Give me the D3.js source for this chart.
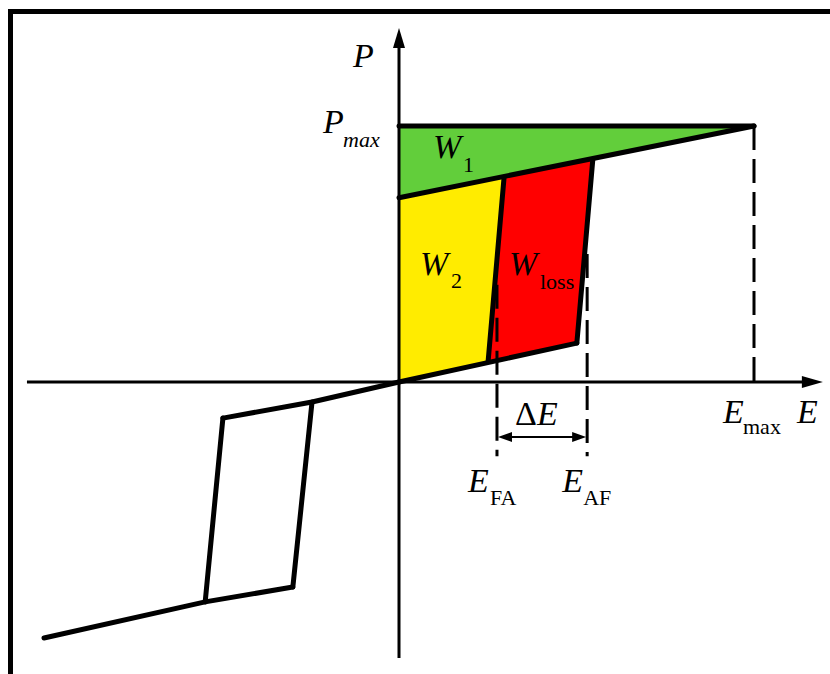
<!DOCTYPE html>
<html>
<head>
<meta charset="utf-8">
<script src="https://cdn.jsdelivr.net/npm/d3@7"></script>
<style>
  body { margin: 0; background: #fff; }
  svg { display: block; }
  text { font-family: "Liberation Serif", "Times New Roman", serif; fill: #000; }
</style>
</head>
<body>
<svg id="chart" width="830" height="674"></svg>
<script>
// normalised units: E / Emax and P / Pmax //
const eMax = 1;
const pMax = 1;

// positive loop //
const lowerE = [0, 0.501];
const lowerP = [0, 0.152];
const riseE = [0.501, 0.546];
const riseP = [0.152, 0.87];
const upperE = [1, 0];
const upperP = [1, 0.72];
const fallE = [0.296, 0.251];
const fallP = [0.80, 0.08];
const topE = [0, 1];
const topP = [1, 1];

// negative loop //
const negUpperE = [0, -0.245, -0.496];
const negUpperP = [0, -0.078, -0.141];
const negLeftE = [-0.496, -0.546];
const negLeftP = [-0.141, -0.859];
const negRightE = [-0.245, -0.299];
const negRightP = [-0.078, -0.801];
const negLowerE = [-0.299, -0.546, -1];
const negLowerP = [-0.801, -0.859, -1];

// energy areas //
const w1E = [0, 1, 0];
const w1P = [1, 1, 0.72];
const w2E = [0, 0.296, 0.251, 0];
const w2P = [0.72, 0.80, 0.08, 0];
const wLossE = [0.296, 0.546, 0.501, 0.251];
const wLossP = [0.80, 0.87, 0.152, 0.08];

// switching fields //
const eFA = 0.276;
const eAF = 0.530;
const dashFAP = [0.38, -0.29];
const dashAFP = [0.50, -0.29];
const deltaP = -0.215;

// axis extents //
const axisE = [-1.048, 1.194];
const axisP = [-1.078, 1.383];

const svg = d3.select('#chart');

//scales//
const x = d3.scaleLinear().domain([0, eMax]).range([399, 754]);
const y = d3.scaleLinear().domain([0, pMax]).range([382, 126]);

const line = d3.line()
  .x((d) => x(d[0]))
  .y((d) => y(d[1]));

//frame//
svg.append('path')
  .attr('d', 'M10.5,674 V11.5 H830')
  .attr('fill', 'none')
  .attr('stroke', '#000')
  .attr('stroke-width', 5);

//filled areas//
const areas = [
  { e: w1E, p: w1P, color: '#62ce3b' },
  { e: w2E, p: w2P, color: '#ffec00' },
  { e: wLossE, p: wLossP, color: '#ff0000' },
];
svg.selectAll('.area')
  .data(areas)
  .join('path')
  .attr('class', 'area')
  .attr('d', (d) => line(d3.zip(d.e, d.p)) + 'Z')
  .attr('fill', (d) => d.color);

//dashed guides//
const dashes = [
  d3.zip([eFA, eFA], dashFAP),
  d3.zip([eAF, eAF], dashAFP),
  d3.zip([eMax, eMax], [pMax, 0]),
];
svg.selectAll('.dash')
  .data(dashes)
  .join('path')
  .attr('class', 'dash')
  .attr('d', line)
  .attr('fill', 'none')
  .attr('stroke', '#000')
  .attr('stroke-width', 3)
  .attr('stroke-dasharray', '24,9');

//axes//
svg.append('path')
  .attr('d', line([[axisE[0], 0], [axisE[1] - 0.04, 0]]))
  .attr('stroke', '#000')
  .attr('stroke-width', 3);
svg.append('path')
  .attr('d', line([[0, axisP[0]], [0, axisP[1] - 0.06]]))
  .attr('stroke', '#000')
  .attr('stroke-width', 3);

// arrow heads //
const tipX = x(axisE[1]);
svg.append('path')
  .attr('d', `M${tipX},${y(0)} L${tipX - 21},${y(0) - 6} L${tipX - 21},${y(0) + 6} Z`)
  .attr('fill', '#000');
const tipY = y(axisP[1]);
svg.append('path')
  .attr('d', `M${x(0)},${tipY} L${x(0) - 6},${tipY + 20} L${x(0) + 6},${tipY + 20} Z`)
  .attr('fill', '#000');

//delta E arrow//
const ay = y(deltaP);
const ax0 = x(eFA) + 1;
const ax1 = x(eAF) - 1;
svg.append('line')
  .attr('x1', ax0 + 4).attr('x2', ax1 - 4)
  .attr('y1', ay).attr('y2', ay)
  .attr('stroke', '#000')
  .attr('stroke-width', 2);
svg.append('path')
  .attr('d', `M${ax0},${ay} L${ax0 + 14},${ay - 5} L${ax0 + 14},${ay + 5} Z M${ax1},${ay} L${ax1 - 14},${ay - 5} L${ax1 - 14},${ay + 5} Z`)
  .attr('fill', '#000');

//loop curves//
const curves = [
  d3.zip(topE, topP),
  d3.zip(upperE, upperP),
  d3.zip(lowerE, lowerP),
  d3.zip(riseE, riseP),
  d3.zip(fallE, fallP),
  d3.zip(negUpperE, negUpperP),
  d3.zip(negLeftE, negLeftP),
  d3.zip(negRightE, negRightP),
  d3.zip(negLowerE, negLowerP),
];
svg.selectAll('.curve')
  .data(curves)
  .join('path')
  .attr('class', 'curve')
  .attr('d', line)
  .attr('fill', 'none')
  .attr('stroke', '#000')
  .attr('stroke-width', 5)
  .attr('stroke-linecap', 'round')
  .attr('stroke-linejoin', 'round');

//labels//
function label(tx, ty, str, size, italic) {
  svg.append('text')
    .attr('x', tx)
    .attr('y', ty)
    .attr('font-size', size)
    .attr('font-style', italic ? 'italic' : 'normal')
    .text(str);
}

label(353, 67, 'P', 34, true);
label(323, 133, 'P', 34, true);
label(343, 147, 'max', 22, true);

label(433, 158, 'W', 34, true);
label(463, 172, '1', 22, false);
label(420, 275, 'W', 34, true);
label(451, 288, '2', 22, false);
label(509, 275, 'W', 34, true);
label(540, 289, 'loss', 22, false);

label(x(eMax) - 31, 423, 'E', 34, true);
label(x(eMax) - 11, 434, 'max', 22, false);
label(797, 423, 'E', 34, true);

svg.append('text')
  .attr('x', 515)
  .attr('y', 425)
  .attr('font-size', 34)
  .call((t) => t.append('tspan').text('Δ'))
  .call((t) => t.append('tspan').attr('font-style', 'italic').text('E'));

label(x(eFA) - 29, 492, 'E', 34, true);
label(x(eFA) - 7, 505, 'FA', 22, false);
label(x(eAF) - 25, 492, 'E', 34, true);
label(x(eAF) - 4, 505, 'AF', 22, false);
</script>
</body>
</html>
